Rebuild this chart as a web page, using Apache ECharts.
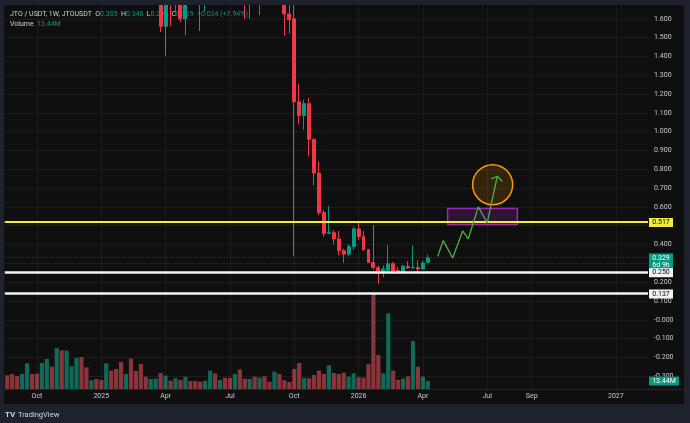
<!DOCTYPE html>
<html>
<head>
<meta charset="utf-8">
<script src="https://cdn.jsdelivr.net/npm/echarts@6/dist/echarts.min.js"></script>
<style>
html, body { margin: 0; padding: 0; background: #1e222d; }
#chart { width: 690px; height: 423px; }
</style>
</head>
<body>
<div id="chart"></div>
<script>
// JTO / USDT weekly, first candle is the week of 2024-08-26
const weekCount = 130;

const opens = [
    2.10, 1.95, 1.82, 1.76, 2.00, 2.28, 2.12, 2.05, 2.38, 2.62,
    2.45, 3.05, 2.95, 3.55, 3.75, 3.90, 3.35, 3.10, 3.30, 3.15,
    3.05, 3.45, 3.05, 2.70, 2.50, 2.72, 2.30, 2.15, 2.02, 1.92,
    1.98, 2.05, 1.56, 1.85, 1.70, 1.82, 1.60, 1.95, 1.88, 1.78,
    1.70, 1.90, 2.25, 2.05, 2.18, 1.98, 1.82, 1.98, 1.80, 1.72,
    1.85, 1.78, 1.95, 1.82, 1.74, 1.88, 1.76, 1.626, 1.60, 1.159,
    1.086, 1.149, 0.959, 0.78, 0.57, 0.459, 0.463, 0.43, 0.367, 0.349,
    0.389, 0.483, 0.442, 0.372, 0.305, 0.277, 0.249, 0.262, 0.298, 0.262,
    0.249, 0.284, 0.276, 0.279, 0.27, 0.305
];
const closes = [
    1.95, 1.82, 1.76, 2.00, 2.28, 2.12, 2.05, 2.38, 2.62, 2.45,
    3.05, 2.95, 3.55, 3.75, 3.90, 3.35, 3.10, 3.30, 3.15, 3.05,
    3.45, 3.05, 2.70, 2.50, 2.72, 2.30, 2.15, 2.02, 1.92, 1.98,
    2.05, 1.56, 1.85, 1.70, 1.82, 1.60, 1.95, 1.88, 1.78, 1.70,
    1.90, 2.25, 2.05, 2.18, 1.98, 1.82, 1.98, 1.80, 1.72, 1.85,
    1.78, 1.95, 1.82, 1.74, 1.88, 1.76, 1.626, 1.595, 1.159, 1.086,
    1.149, 0.959, 0.78, 0.57, 0.459, 0.463, 0.43, 0.367, 0.349, 0.389,
    0.483, 0.442, 0.372, 0.305, 0.277, 0.249, 0.27, 0.298, 0.258, 0.255,
    0.284, 0.276, 0.279, 0.27, 0.302, 0.329
];
const highs = [
    2.18, 2.02, 1.90, 2.05, 2.35, 2.36, 2.20, 2.45, 2.75, 2.70,
    3.20, 3.35, 3.80, 3.95, 4.20, 4.00, 3.50, 3.40, 3.45, 3.30,
    3.70, 3.55, 3.10, 2.85, 2.80, 2.80, 2.40, 2.25, 2.10, 2.05,
    2.12, 2.15, 1.95, 1.92, 1.90, 1.88, 2.05, 2.10, 1.95, 1.85,
    1.95, 2.40, 2.35, 2.30, 2.25, 2.05, 2.10, 2.15, 1.90, 1.95,
    1.92, 2.05, 2.05, 1.90, 2.00, 1.95, 1.82, 1.70, 1.72, 1.253,
    1.17, 1.179, 0.965, 0.842, 0.583, 0.605, 0.477, 0.472, 0.377, 0.402,
    0.495, 0.525, 0.472, 0.377, 0.503, 0.289, 0.289, 0.398, 0.307, 0.279,
    0.293, 0.311, 0.395, 0.316, 0.314, 0.346
];
const lows = [
    1.90, 1.78, 1.70, 1.72, 1.95, 2.05, 1.98, 2.00, 2.30, 2.35,
    2.40, 2.80, 2.90, 3.40, 3.60, 3.20, 3.00, 3.00, 3.05, 3.00,
    2.95, 2.95, 2.55, 2.40, 2.45, 2.20, 2.05, 1.95, 1.85, 1.85,
    1.90, 1.53, 1.405, 1.56, 1.63, 1.583, 1.512, 1.80, 1.72, 1.535,
    1.64, 1.85, 1.95, 2.00, 1.90, 1.75, 1.78, 1.70, 1.60, 1.60,
    1.70, 1.62, 1.75, 1.68, 1.70, 1.70, 1.51, 1.521, 0.337, 1.038,
    1.009, 0.868, 0.714, 0.556, 0.442, 0.455, 0.402, 0.342, 0.302, 0.337,
    0.372, 0.425, 0.368, 0.302, 0.267, 0.19, 0.226, 0.26, 0.254, 0.249,
    0.245, 0.27, 0.272, 0.254, 0.265, 0.304
];
// volume in millions
const volumes = [
    23.0, 25.2, 21.8, 25.2, 43.1, 25.2, 25.8, 43.7, 50.4, 37.5,
    68.9, 65.0, 64.4, 38.1, 52.1, 53.8, 36.4, 14.6, 16.8, 15.1,
    43.1, 30.8, 33.6, 45.4, 25.2, 51.0, 30.2, 42.0, 20.7, 16.8,
    17.4, 26.9, 22.4, 14.0, 17.9, 15.1, 20.7, 13.4, 13.4, 12.3,
    14.0, 30.8, 26.3, 15.1, 19.0, 18.5, 25.2, 33.0, 17.4, 16.8,
    20.7, 19.0, 21.3, 12.3, 29.1, 25.2, 15.1, 11.8, 33.6, 43.7,
    18.5, 17.9, 23.5, 30.8, 25.2, 39.8, 26.9, 25.2, 27.4, 20.7,
    26.3, 19.6, 19.0, 42.0, 161.0, 57.1, 26.3, 127.1, 30.8, 15.1,
    17.4, 21.3, 80.6, 37.5, 20.7, 13.44
];

// time scale labels (week index -> text)
const tickIdx = [6, 19, 32, 45, 58, 71, 84, 97, 106, 123];
const tickText = ['Oct', '2025', 'Apr', 'Jul', 'Oct', '2026', 'Apr', 'Jul', 'Sep', '2027'];

// drawn levels
const yellowLevel = 0.517;
const whiteLevels = [0.25, 0.137];
const lastPrice = 0.329;
const countdown = '6d 9h';
const lastVolume = 13.44;

// projection drawing (week index, price)
const projX = [87, 88.12, 90.02, 92.04, 93.17, 95.2, 97.01, 99.04];
const projY = [0.337, 0.421, 0.328, 0.472, 0.43, 0.6, 0.516, 0.763];
const arrowX = [97.82, 99.04, 100.05];
const arrowY = [0.749, 0.763, 0.735];
const zoneX = [89, 103.1];
const zoneY = [0.507, 0.591];
const targetX = 98.1;
const targetY = 0.718;

const upColor = '#089981';
const downColor = '#f23645';
const gridColor = 'rgba(255,255,255,0.055)';
const textColor = '#c9cbd1';
const font = 'Roboto';

const categories = [];
for (let i = 0; i < weekCount; i++) {
    const d = new Date(Date.UTC(2024, 7, 26) + i * 7 * 86400000);
    categories.push(d.toISOString().slice(0, 10));
}

const candles = opens.map((o, i) => [o, closes[i], lows[i], highs[i]]);
const volumeBars = volumes.map((v, i) => ({
    value: v,
    itemStyle: { color: closes[i] >= opens[i] ? '#0f6a59' : '#8a353c' }
}));

const chart = echarts.init(document.getElementById('chart'));

const option = {
    backgroundColor: '#0f0f0f',
    animation: false,
    grid: [
        { left: 4.8, right: 42, top: -4, bottom: 28 },
        { left: 4.8, right: 42, top: 289, bottom: 34 }
    ],
    xAxis: [
        {
            type: 'category', gridIndex: 0, data: categories,
            axisLine: { show: false }, axisTick: { show: false },
            axisLabel: { show: false }, splitLine: { show: false }
        },
        { type: 'value', gridIndex: 0, min: -0.5, max: weekCount - 0.5, show: false },
        {
            type: 'category', gridIndex: 1, data: categories, z: 95,
            axisLine: { show: false }, axisTick: { show: false }, splitLine: { show: false },
            axisLabel: {
                interval: (i) => tickIdx.indexOf(i) >= 0,
                formatter: (v, i) => tickText[tickIdx.indexOf(i)] || '',
                color: textColor, fontSize: 7, fontFamily: font, margin: 4
            }
        }
    ],
    yAxis: [
        {
            type: 'value', gridIndex: 0, position: 'right',
            min: -0.4, max: 1.7, interval: 0.1,
            axisLine: { show: false }, axisTick: { show: false },
            splitLine: { lineStyle: { color: gridColor, width: 1 } },
            axisLabel: {
                color: textColor, fontSize: 7, fontFamily: font, margin: 6,
                formatter: function (v) {
                    if (v < -0.35 || v > 1.65) return '';
                    return v < 0.0001 ? '-' + Math.abs(v).toFixed(3) : v.toFixed(3);
                }
            }
        },
        { type: 'value', gridIndex: 1, min: 0, max: 168, show: false }
    ],
    series: [
        {
            // vertical grid at the time labels
            type: 'line', xAxisIndex: 1, yAxisIndex: 0, data: [], z: 1, silent: true,
            markLine: {
                silent: true, symbol: ['none', 'none'], label: { show: false },
                lineStyle: { color: gridColor, type: 'solid', width: 1 },
                data: tickIdx.map((i) => ({ xAxis: i }))
            }
        },
        {
            name: 'JTOUSDT', type: 'candlestick', xAxisIndex: 0, yAxisIndex: 0,
            data: candles, barWidth: 3.4, z: 3,
            itemStyle: {
                color: upColor, color0: downColor,
                borderColor: upColor, borderColor0: downColor, borderWidth: 1
            }
        },
        {
            name: 'Volume', type: 'bar', xAxisIndex: 2, yAxisIndex: 1,
            data: volumeBars, barWidth: 4.2, z: 2
        },
        {
            // target circle
            type: 'scatter', xAxisIndex: 1, yAxisIndex: 0, z: 4, silent: true,
            data: [[targetX, targetY]], symbolSize: 40,
            itemStyle: { color: 'rgba(255,152,0,0.16)', borderColor: '#ff9800', borderWidth: 1.5, opacity: 1 }
        },
        {
            // projection path and zone
            type: 'line', xAxisIndex: 1, yAxisIndex: 0, z: 6, silent: true,
            data: projX.map((x, i) => [x, projY[i]]), symbol: 'none',
            lineStyle: { color: '#4caf50', width: 1.3 },
            markArea: {
                silent: true,
                itemStyle: { color: 'rgba(156,39,176,0.22)', borderColor: '#9c27b0', borderWidth: 1.5 },
                data: [[{ coord: [zoneX[0], zoneY[1]] }, { coord: [zoneX[1], zoneY[0]] }]]
            }
        },
        {
            type: 'line', xAxisIndex: 1, yAxisIndex: 0, z: 6, silent: true,
            data: arrowX.map((x, i) => [x, arrowY[i]]), symbol: 'none',
            lineStyle: { color: '#4caf50', width: 1.3 }
        },
        {
            // horizontal levels and last price line
            type: 'line', xAxisIndex: 1, yAxisIndex: 0, data: [], z: 5, silent: true,
            markLine: {
                silent: true, symbol: ['none', 'none'], label: { show: false },
                data: [
                    { yAxis: lastPrice, lineStyle: { color: 'rgba(8,153,129,0.6)', type: [1, 2], width: 1 } },
                    { yAxis: yellowLevel, lineStyle: { color: '#f2ec3a', type: 'solid', width: 2 } },
                    { yAxis: whiteLevels[0], lineStyle: { color: '#f4f4f4', type: 'solid', width: 2.6 } },
                    { yAxis: whiteLevels[1], lineStyle: { color: '#f4f4f4', type: 'solid', width: 2.6 } }
                ]
            }
        }
    ]
};

chart.setOption(option);

const py = (v) => chart.convertToPixel({ yAxisIndex: 0 }, v);
const vy = (v) => chart.convertToPixel({ yAxisIndex: 1 }, v);

function badge(y, w, h, bg, fg, lines) {
    const els = [{
        type: 'rect', z: 100, silent: true,
        shape: { x: 649, y: y - 4.5, width: w, height: h },
        style: { fill: bg }
    }];
    lines.forEach((t, k) => {
        els.push({
            type: 'text', z: 101, silent: true, x: 649 + w / 2, y: y + k * 7,
            style: { text: t, fill: fg, font: '7px ' + font, align: 'center', verticalAlign: 'middle' }
        });
    });
    return els;
}

const graphics = [
    { type: 'rect', z: 90, silent: true, shape: { x: 4, y: 389, width: 680, height: 15 }, style: { fill: '#0f0f0f' } },
    { type: 'rect', z: 91, silent: true, shape: { x: 4, y: 389, width: 680, height: 1 }, style: { fill: '#24272f' } },
    { type: 'rect', z: 100, silent: true, shape: { x: 0, y: 0, width: 690, height: 5 }, style: { fill: '#1e222d' } },
    { type: 'rect', z: 100, silent: true, shape: { x: 0, y: 0, width: 4, height: 423 }, style: { fill: '#1e222d' } },
    { type: 'rect', z: 100, silent: true, shape: { x: 684, y: 0, width: 6, height: 423 }, style: { fill: '#1e222d' } },
    { type: 'rect', z: 100, silent: true, shape: { x: 0, y: 404, width: 690, height: 19 }, style: { fill: '#1e222d' } },
    {
        type: 'text', z: 1, silent: true, x: 10, y: 14,
        style: {
            text: '{t|JTO / USDT, 1W, JTOUSDT} {k|O}{v|0.305} {k|H}{v|0.346} {k|L}{v|0.304} {k|C}{v|0.329} {v|+0.024 (+7.94%)}',
            verticalAlign: 'middle',
            rich: {
                t: { fill: '#d1d4dc', fontSize: 7, fontFamily: font },
                k: { fill: '#d1d4dc', fontSize: 7, fontFamily: font },
                v: { fill: upColor, fontSize: 7, fontFamily: font }
            }
        }
    },
    {
        type: 'text', z: 1, silent: true, x: 10, y: 24,
        style: {
            text: '{k|Volume} {v|13.44M}',
            verticalAlign: 'middle',
            rich: {
                k: { fill: '#d1d4dc', fontSize: 7, fontFamily: font },
                v: { fill: upColor, fontSize: 7, fontFamily: font }
            }
        }
    },
    {
        type: 'text', z: 101, silent: true, x: 5, y: 415,
        style: { text: 'TV', fill: '#d1d4dc', font: 'bold 8px ' + font, verticalAlign: 'middle' }
    },
    {
        type: 'text', z: 101, silent: true, x: 18, y: 415,
        style: { text: 'TradingView', fill: '#d1d4dc', font: '7.5px ' + font, verticalAlign: 'middle' }
    }
];

graphics.push(...badge(py(yellowLevel), 24, 9, '#f2ec3a', '#000', [yellowLevel.toFixed(3)]));
graphics.push(...badge(py(lastPrice), 24, 16, upColor, '#fff', [lastPrice.toFixed(3), countdown]));
whiteLevels.forEach((lv) => {
    graphics.push(...badge(py(lv), 24, 9, '#f4f4f4', '#000', [lv.toFixed(3)]));
});
graphics.push(...badge(vy(lastVolume), 30, 9, upColor, '#fff', [lastVolume.toFixed(2) + 'M']));

chart.setOption({ graphic: graphics });

window.addEventListener('resize', function () {
    chart.resize();
});
</script>
</body>
</html>
